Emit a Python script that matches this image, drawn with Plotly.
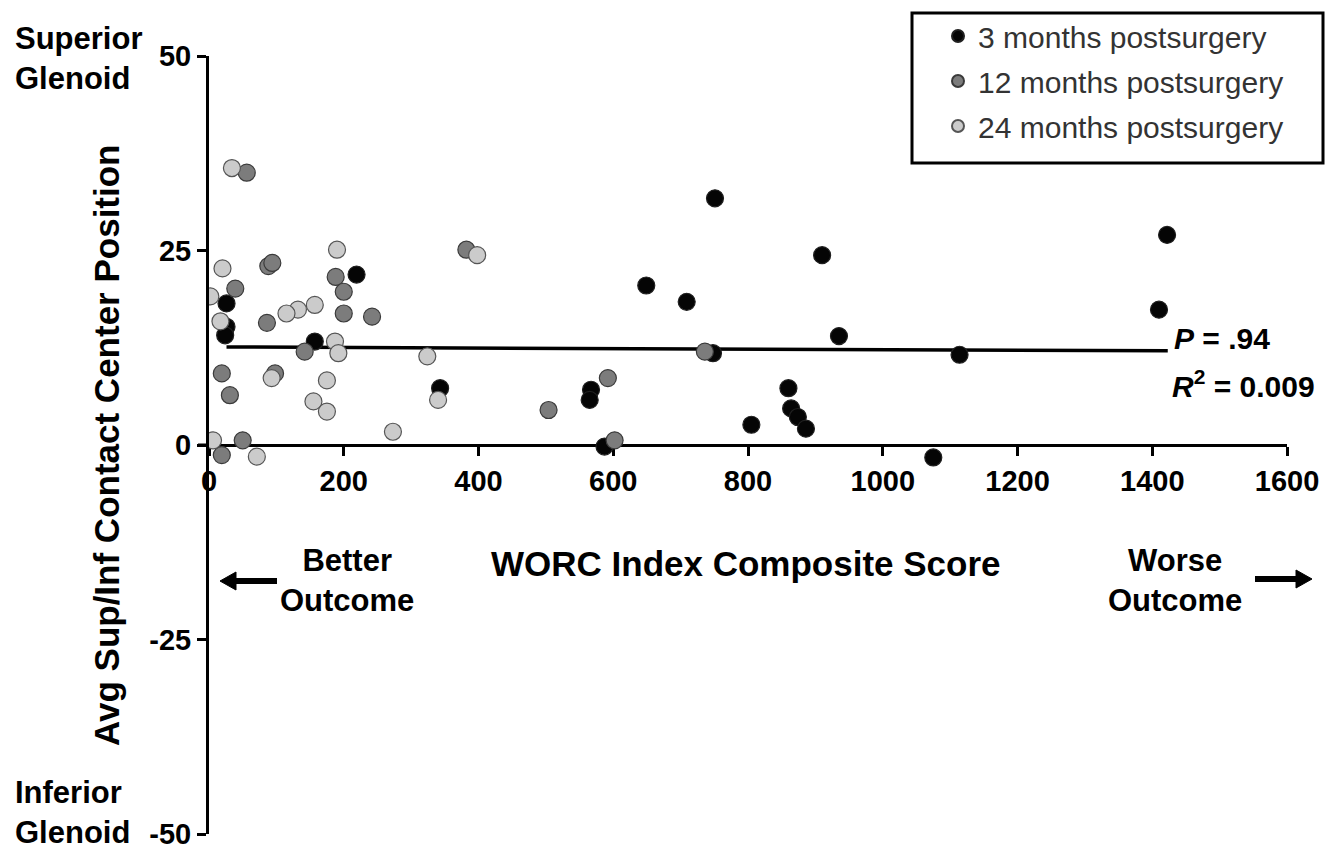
import plotly.graph_objects as go

# ---- data ----
m3_x = [26, 26, 24, 219, 157, 343, 751, 910, 649, 709, 935, 748, 1114, 567, 565,
        860, 864, 874, 886, 805, 587, 1075, 1422, 1410]
m3_y = [18.2, 15.2, 14.1, 21.9, 13.3, 7.3, 31.7, 24.4, 20.5, 18.4, 14.0, 11.8, 11.6, 7.1, 5.8,
        7.3, 4.7, 3.6, 2.1, 2.6, -0.2, -1.6, 27.0, 17.4]

m12_x = [56, 382, 88, 94, 188, 39, 200, 200, 242, 86, 142, 19, 98, 31, 50, 19,
         736, 592, 504, 602]
m12_y = [35.0, 25.1, 23.0, 23.4, 21.6, 20.1, 19.7, 16.9, 16.5, 15.7, 12.0, 9.2, 9.2, 6.4, 0.6, -1.3,
         12.0, 8.6, 4.5, 0.6]

m24_x = [34, 190, 398, 20, 2, 157, 132, 115, 17, 187, 192, 324, 93, 175, 340, 155, 175,
         273, 6, 71]
m24_y = [35.6, 25.1, 24.4, 22.7, 19.1, 18.0, 17.4, 16.9, 15.9, 13.3, 11.8, 11.4, 8.6, 8.3, 5.8, 5.6, 4.3,
         1.7, 0.6, -1.5]

reg_x = [26, 1423]
reg_y = [12.6, 12.1]

series_names = ["3 months postsurgery", "12 months postsurgery", "24 months postsurgery"]
x_ticks = [0, 200, 400, 600, 800, 1000, 1200, 1400, 1600]
y_ticks = [-50, -25, 0, 25, 50]

# ---- layout geometry (pixels) ----
W, H = 1337, 851
L, R, T, B = 209, 1287, 56, 834
PW, PH = R - L, B - T


def px(x):
    return (x - L) / PW


def py(y):
    return (B - y) / PH


FONT = "Liberation Sans, Arial, sans-serif"

fig = go.Figure()

fig.add_trace(go.Scatter(
    x=reg_x, y=reg_y, mode="lines", line=dict(color="black", width=3.5),
    showlegend=False, hoverinfo="skip"))

styles = [
    ("#050505", "#202020"),
    ("#7c7c7c", "#3a3a3a"),
    ("#cbcbcb", "#555555"),
]
for i, (xs, ys) in enumerate([(m3_x, m3_y), (m12_x, m12_y), (m24_x, m24_y)]):
    fill, edge = styles[i]
    fig.add_trace(go.Scatter(
        x=xs, y=ys, mode="markers", name=series_names[i], legendgroup=f"g{i}",
        marker=dict(size=17, color=fill, line=dict(color=edge, width=1.2))))

fig.update_layout(
    width=W, height=H,
    margin=dict(l=L, r=W - R, t=T, b=H - B, autoexpand=False),
    paper_bgcolor="white", plot_bgcolor="white",
    font=dict(family=FONT, color="black"),
    showlegend=True,
    legend=dict(
        x=px(938), y=py(10), xanchor="left", yanchor="top",
        bgcolor="rgba(0,0,0,0)", borderwidth=0,
        font=dict(family=FONT, size=30, color="#333333"),
        itemsizing="constant", tracegroupgap=3,
    ),
    xaxis=dict(
        range=[0, 1600], tickvals=x_ticks, ticktext=[str(v) for v in x_ticks],
        anchor="free", position=0.5, showline=True, linecolor="black", linewidth=3,
        ticks="outside", ticklen=9, tickwidth=3, tickcolor="black",
        tickfont=dict(family=FONT, size=29, weight="bold"),
        showgrid=False, zeroline=False, layer="below traces", automargin=False,
    ),
    yaxis=dict(
        range=[-50, 50], tickvals=y_ticks, ticktext=[str(v) for v in y_ticks],
        showline=True, linecolor="black", linewidth=3,
        ticks="outside", ticklen=9, tickwidth=3, tickcolor="black",
        tickfont=dict(family=FONT, size=29, weight="bold"),
        showgrid=False, zeroline=False, layer="below traces", automargin=False,
    ),
)

# legend frame
fig.add_shape(type="rect", xref="paper", yref="paper", x0=px(912), x1=px(1323),
              y0=py(163), y1=py(13), line=dict(color="black", width=3), fillcolor="white",
              layer="above")

# small extension of x axis line to the left of the y axis
fig.add_shape(type="line", xref="paper", yref="y", x0=px(198), x1=0, y0=0, y1=0,
              line=dict(color="black", width=3), layer="below")


# arrows (shaft + head)
def arrow(x_tail, x_tip, yc):
    d = 1 if x_tip > x_tail else -1
    head = 16
    fig.add_shape(type="line", xref="paper", yref="paper",
                  x0=px(x_tail), x1=px(x_tip - d * head + d * 2), y0=py(yc), y1=py(yc),
                  line=dict(color="black", width=6))
    xb = x_tip - d * head
    path = (f"M {px(x_tip)} {py(yc)} L {px(xb)} {py(yc - 9)} "
            f"L {px(xb)} {py(yc + 9)} Z")
    fig.add_shape(type="path", xref="paper", yref="paper", path=path,
                  fillcolor="black", line=dict(color="black", width=1))


arrow(277, 220, 581)
arrow(1255, 1312, 579)

bold = dict(family=FONT, size=31, color="black", weight="bold")

ann = []
ann.append(dict(text="Superior<br>Glenoid", x=px(13), y=py(58), xanchor="left", yanchor="middle",
                align="left", font=bold))
ann.append(dict(text="Inferior<br>Glenoid", x=px(13), y=py(812), xanchor="left", yanchor="middle",
                align="left", font=bold))
ann.append(dict(text="Avg Sup/Inf Contact Center Position", x=px(106), y=0.5, textangle=-90,
                xanchor="center", yanchor="middle",
                font=dict(family=FONT, size=35, color="black", weight="bold")))
ann.append(dict(text="WORC Index Composite Score", x=px(746), y=py(563), xanchor="center",
                yanchor="middle", font=dict(family=FONT, size=35, color="black", weight="bold")))
ann.append(dict(text="Better<br>Outcome", x=px(347), y=py(580), xanchor="center", yanchor="middle",
                align="center", font=bold))
ann.append(dict(text="Worse<br>Outcome", x=px(1175), y=py(580), xanchor="center", yanchor="middle",
                align="center", font=bold))
ann.append(dict(text="<i>P</i> = .94", x=px(1172), y=py(338), xanchor="left", yanchor="middle",
                font=dict(family=FONT, size=30, color="black", weight="bold")))
ann.append(dict(text="<i>R</i><sup>2</sup> = 0.009", x=px(1170), y=py(384), xanchor="left",
                yanchor="middle", font=dict(family=FONT, size=30, color="black", weight="bold")))
for a in ann:
    a.update(xref="paper", yref="paper", showarrow=False)
    fig.add_annotation(**a)

fig.write_html("out.html", config={"displayModeBar": False},
               post_script="document.body.style.margin='0';")
